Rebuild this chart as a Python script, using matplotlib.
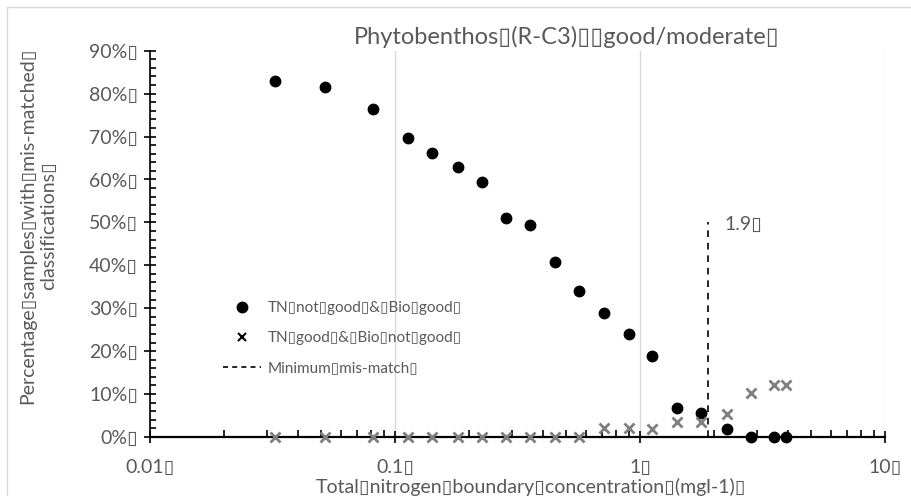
import matplotlib
matplotlib.use("Agg")
import matplotlib.pyplot as plt
from matplotlib.lines import Line2D
from matplotlib.patches import Rectangle
from matplotlib.ticker import FixedLocator, NullFormatter

BOX = "\u25af"
plt.rcParams['font.family'] = ['Lato', 'DejaVu Sans']

# ---- data ----
tn_boundary = [0.0324, 0.0518, 0.0813, 0.113, 0.142, 0.181, 0.226, 0.284, 0.356, 0.450,
               0.564, 0.713, 0.902, 1.12, 1.42, 1.77, 2.27, 2.84, 3.52, 3.94]
tn_not_good_bio_good = [0.830, 0.816, 0.765, 0.697, 0.662, 0.629, 0.594, 0.510, 0.494, 0.408,
                        0.340, 0.289, 0.240, 0.189, 0.068, 0.056, 0.019, 0.0, 0.0, 0.0]
tn_good_bio_not_good = [0.0, 0.0, 0.0, 0.0, 0.0, 0.0, 0.0, 0.0, 0.0, 0.0,
                        0.0, 0.021, 0.021, 0.019, 0.035, 0.035, 0.053, 0.102, 0.120, 0.120]
min_mismatch_x = 1.9
min_mismatch_top = 0.50
x_ticks = [0.01, 0.1, 1, 10]
x_tick_labels = ["0.01" + BOX, "0.1" + BOX, "1" + BOX, "10" + BOX]
y_ticks = [0.0, 0.1, 0.2, 0.3, 0.4, 0.5, 0.6, 0.7, 0.8, 0.9]
y_tick_labels = [f"{int(round(v*100))}%" + BOX for v in y_ticks]
title_text = "Phytobenthos" + BOX + "(R-C3)" + BOX + BOX + "good/moderate" + BOX
xlabel_text = ("Total" + BOX + "nitrogen" + BOX + "boundary" + BOX + "concentration"
               + BOX + "(mgl-1)" + BOX)
ylabel_text = ("Percentage" + BOX + "samples" + BOX + "with" + BOX + "mis-matched" + BOX
               + "\nclassifications" + BOX)
legend_labels = ["TN" + BOX + "not" + BOX + "good" + BOX + "&" + BOX + "Bio" + BOX + "good" + BOX,
                 "TN" + BOX + "good" + BOX + "&" + BOX + "Bio" + BOX + "not" + BOX + "good" + BOX,
                 "Minimum" + BOX + "mis-match" + BOX]

W, H = 911, 496
fig = plt.figure(figsize=(W/100, H/100), dpi=100)

# chart border
fig.patches.append(Rectangle((7/W, -0.1), 2, 1 - 7/H + 0.1, transform=fig.transFigure,
                             fill=False, edgecolor='#d9d9d9', lw=1))

ax = fig.add_axes([150/W, 1 - 437/H, (885-150)/W, (437-50.7)/H])
ax.set_xscale('log')
ax.set_xlim(0.01, 10)
ax.set_ylim(0, 0.9)

ax.grid(True, axis='x', which='major', color='#d9d9d9', lw=1)
ax.set_axisbelow(True)

gray = '#595959'
ax.plot([min_mismatch_x, min_mismatch_x], [0, min_mismatch_top], color='black',
        ls=(0, (4, 3.5)), lw=1.2, zorder=3)
ax.text(min_mismatch_x * 1.16, min_mismatch_top - 0.005, "1.9" + BOX, fontsize=14,
        color=gray, va='center', ha='left')

ax.plot(tn_boundary, tn_not_good_bio_good, 'o', color='black', ms=7.5, ls='none',
        clip_on=False, zorder=4)
ax.plot(tn_boundary, tn_good_bio_not_good, 'x', color='#7f7f7f', ms=7, mew=2, ls='none',
        clip_on=False, zorder=5)

for s in ['top', 'right']:
    ax.spines[s].set_visible(False)
ax.spines['bottom'].set_linewidth(1.6)
ax.spines['left'].set_linewidth(1.2)

ax.xaxis.set_major_locator(FixedLocator(x_ticks))
ax.set_xticklabels(x_tick_labels)
minor_x = [m * d for d in [0.01, 0.1, 1] for m in range(2, 10)]
ax.xaxis.set_minor_locator(FixedLocator(minor_x))
ax.xaxis.set_minor_formatter(NullFormatter())
ax.set_yticks(y_ticks)
ax.set_yticklabels(y_tick_labels)
ax.yaxis.set_minor_locator(FixedLocator([i * 0.02 for i in range(46)]))

ax.tick_params(axis='x', which='major', direction='inout', length=9, width=1.2,
               labelsize=14, labelcolor=gray, pad=11)
ax.tick_params(axis='x', which='minor', direction='in', length=5, width=1.2)
ax.tick_params(axis='y', which='major', direction='inout', length=9, width=1.2,
               labelsize=14, labelcolor=gray, pad=4)
ax.tick_params(axis='y', which='minor', direction='in', length=4, width=1.2)

handles = [Line2D([], [], marker='o', color='black', ls='none', ms=7.5),
           Line2D([], [], marker='x', color='black', ls='none', ms=6, mew=1.5),
           Line2D([], [], color='black', ls=(0, (3, 2.5)), lw=1.2)]
leg = ax.legend(handles, legend_labels, loc='upper left', bbox_to_anchor=(0.099, 0.352),
                frameon=False, fontsize=11, handlelength=2.5, handletextpad=0.45,
                labelspacing=1.05, borderpad=0, borderaxespad=0, labelcolor=gray)

fig.text(567/W, 1 - 37/H, title_text, fontsize=17, color=gray, ha='center', va='center')
fig.text(531/W, 1 - 487/H, xlabel_text, fontsize=14, color=gray, ha='center', va='center')
fig.text(38/W, 1 - 226/H, ylabel_text, fontsize=14, color=gray, ha='center', va='center',
         rotation=90, multialignment='center', linespacing=1.3)

fig.savefig("out.png", dpi=100)
